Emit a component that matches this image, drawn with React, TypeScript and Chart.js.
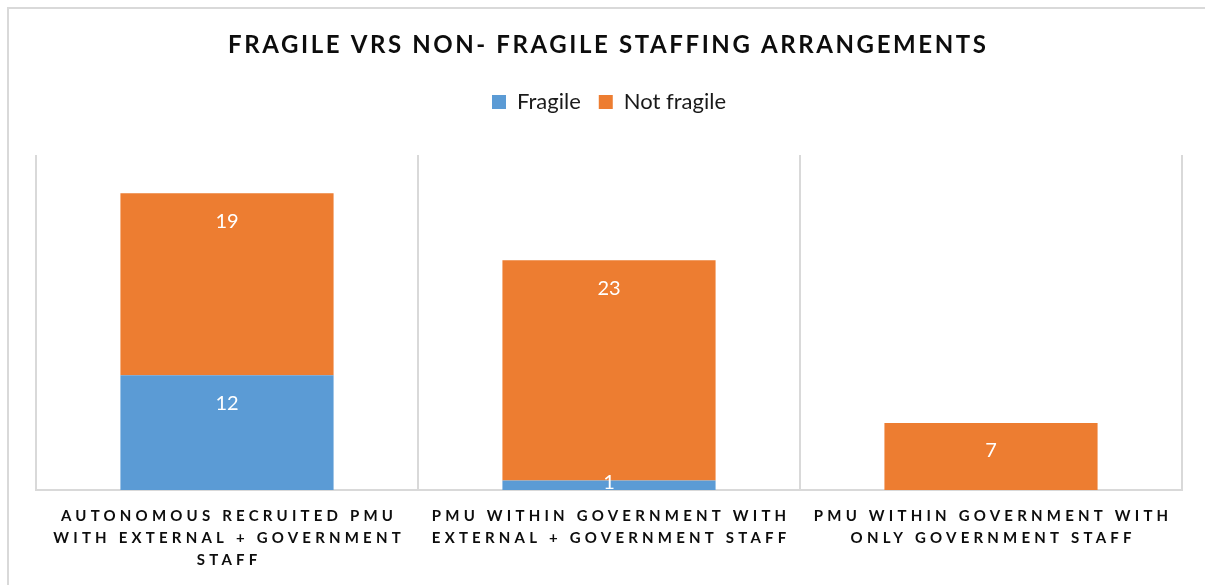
import React, { useEffect, useRef } from "react";
import { Chart, registerables } from "chart.js";

Chart.register(...registerables);

const chartTitle = "FRAGILE VRS NON- FRAGILE STAFFING ARRANGEMENTS";
const categories: string[][] = [
  ["AUTONOMOUS RECRUITED PMU", "WITH EXTERNAL + GOVERNMENT", "STAFF"],
  ["PMU WITHIN GOVERNMENT WITH", "EXTERNAL + GOVERNMENT STAFF"],
  ["PMU WITHIN GOVERNMENT WITH", "ONLY GOVERNMENT STAFF"],
];
const seriesNames = ["Fragile", "Not fragile"];
const fragileValues = [12, 1, 0];
const notFragileValues = [19, 23, 7];
const seriesColors = ["#5B9BD5", "#ED7D31"];
const yMin = 0;
const yMax = 35;

const FONT = "Lato, 'Open Sans', sans-serif";

const titlePlugin = {
  id: "spacedTitle",
  afterDraw(chart: any) {
    const { ctx, chartArea } = chart;
    const spacing = 2.6;
    ctx.save();
    ctx.font = `bold 24px ${FONT}`;
    (ctx as any).letterSpacing = `${spacing}px`;
    ctx.fillStyle = "#0d0d0d";
    ctx.textAlign = "left";
    ctx.textBaseline = "middle";
    const w = ctx.measureText(chartTitle).width - spacing;
    const cx = (chartArea.left + chartArea.right) / 2 - 2;
    ctx.fillText(chartTitle, cx - w / 2, 45.5);
    ctx.restore();
  },
};

const tickLabelPlugin = {
  id: "spacedTicks",
  afterDraw(chart: any) {
    const { ctx, chartArea } = chart;
    const xScale = chart.scales.x;
    const spacing = 4.2;
    ctx.save();
    ctx.font = `bold 15px ${FONT}`;
    (ctx as any).letterSpacing = `${spacing}px`;
    ctx.fillStyle = "#0d0d0d";
    ctx.textAlign = "left";
    ctx.textBaseline = "middle";
    categories.forEach((lines, i) => {
      const cx = xScale.getPixelForValue(i);
      lines.forEach((line, j) => {
        const w = ctx.measureText(line).width - spacing;
        ctx.fillText(line, cx - w / 2, chartArea.bottom + 26.5 + j * 21.7);
      });
    });
    ctx.restore();
  },
};

const dataLabelPlugin = {
  id: "barValueLabels",
  afterDatasetsDraw(chart: any) {
    const { ctx } = chart;
    ctx.save();
    ctx.font = `20px ${FONT}`;
    ctx.fillStyle = "#ffffff";
    ctx.textAlign = "center";
    ctx.textBaseline = "middle";
    chart.data.datasets.forEach((ds: any, d: number) => {
      const meta = chart.getDatasetMeta(d);
      meta.data.forEach((bar: any, i: number) => {
        const v = ds.data[i];
        if (!v) return;
        const { x, y, base } = bar.getProps(["x", "y", "base"], true);
        const top = Math.min(y, base);
        const bottom = Math.max(y, base);
        const ly = Math.min(top + 28, bottom - 7);
        ctx.fillText(String(v), x, ly);
      });
    });
    ctx.restore();
  },
};

export default function App() {
  const canvasRef = useRef<HTMLCanvasElement | null>(null);

  useEffect(() => {
    if (!canvasRef.current) return;
    const chart = new Chart(canvasRef.current, {
      type: "bar",
      data: {
        labels: categories.map((c) => c.join(" ")),
        datasets: [
          {
            label: seriesNames[0],
            data: fragileValues,
            backgroundColor: seriesColors[0],
            borderWidth: 0,
            barPercentage: 0.558,
            categoryPercentage: 1,
          },
          {
            label: seriesNames[1],
            data: notFragileValues,
            backgroundColor: seriesColors[1],
            borderWidth: 0,
            barPercentage: 0.558,
            categoryPercentage: 1,
          },
        ],
      },
      options: {
        responsive: false,
        animation: false,
        devicePixelRatio: 1,
        layout: { padding: { top: 73, left: 36, right: 23, bottom: 95 } },
        plugins: {
          title: { display: false },
          subtitle: {
            display: true,
            text: "",
            position: "top",
            weight: 500,
            padding: 0,
            font: { size: 32, lineHeight: 1 },
          } as any,
          legend: {
            display: true,
            position: "top",
            labels: {
              boxWidth: 14,
              boxHeight: 14,
              padding: 18,
              color: "#1a1a1a",
              font: { family: FONT, size: 22 },
            },
          },
          tooltip: { enabled: false },
        },
        scales: {
          x: {
            stacked: true,
            offset: true,
            grid: {
              display: true,
              offset: true,
              drawTicks: false,
              color: "#d9d9d9",
              lineWidth: 2,
            },
            border: { display: true, color: "#d9d9d9", width: 2 },
            ticks: { display: false },
          },
          y: {
            stacked: true,
            display: false,
            min: yMin,
            max: yMax,
          },
        },
      },
      plugins: [titlePlugin, tickLabelPlugin, dataLabelPlugin],
    });
    return () => chart.destroy();
  }, []);

  return (
    <div
      style={{
        position: "fixed",
        left: 0,
        top: 0,
        width: 1205,
        height: 585,
        background: "#ffffff",
        overflow: "hidden",
      }}
    >
      <div
        style={{
          position: "absolute",
          left: 7,
          top: 7,
          width: 1300,
          height: 700,
          border: "2px solid #d9d9d9",
          boxSizing: "border-box",
        }}
      />
      <canvas
        ref={canvasRef}
        width={1205}
        height={585}
        style={{ position: "absolute", left: 0, top: 0, width: 1205, height: 585 }}
      />
    </div>
  );
}
